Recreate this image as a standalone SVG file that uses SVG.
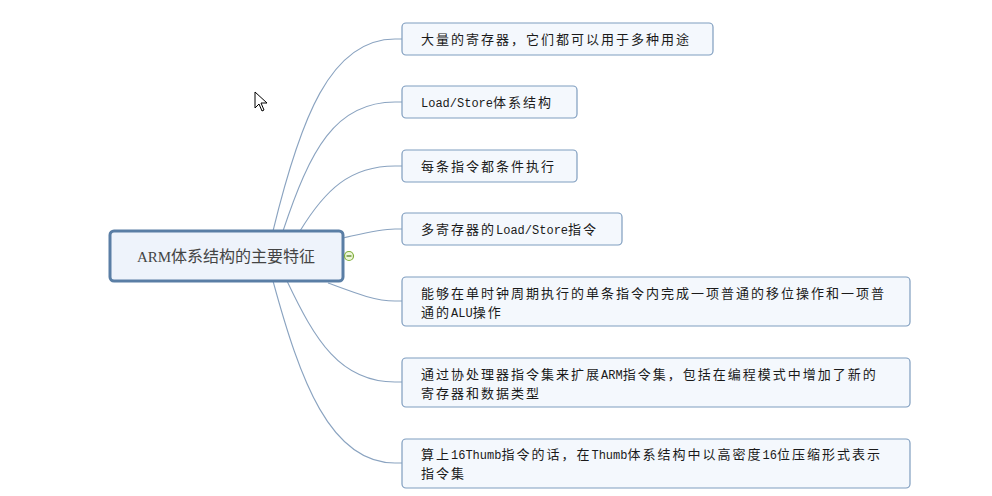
<svg xmlns="http://www.w3.org/2000/svg" width="992" height="496" viewBox="0 0 992 496">
<style>
.box{fill:#f4f8fd;stroke:#7f9dbf;stroke-width:1.2}
.root{fill:#eef3fb;stroke:#5a7ea5;stroke-width:3}
.t{font-family:"Noto Sans CJK SC","Noto Sans CJK JP",sans-serif;font-size:13px;letter-spacing:2px;fill:#1a1a1a}
.lat{font-family:"Liberation Mono",monospace;font-size:12px;letter-spacing:0px}
.rt{font-family:"Noto Sans CJK SC",sans-serif;font-size:16px;fill:#444}
.c{fill:none;stroke:#8aa3c0;stroke-width:1.1}
</style>
<rect width="992" height="496" fill="#ffffff"/>
<g id="connectors">
<path class="c" d="M273,231 C300,120 330,39 395,39 L402,39"/>
<path class="c" d="M283,231 C310,150 335,102 395,102 L402,102"/>
<path class="c" d="M300,231 C325,190 350,166 395,166 L402,166"/>
<path class="c" d="M343,238 C365,233 380,229 395,229 L402,229"/>
<path class="c" d="M328,283 C355,293 375,301 395,301 L402,301"/>
<path class="c" d="M287,281 C315,340 340,382 395,382 L402,382"/>
<path class="c" d="M273,281 C300,380 330,463 395,463 L402,463"/>
</g>
<g id="root">
<rect class="root" x="110" y="231" width="233" height="50" rx="4"/>
<text class="rt" x="226" y="262" text-anchor="middle"><tspan font-family="Liberation Serif, serif" font-size="15px">ARM</tspan>体系结构的主要特征</text>
<circle cx="349" cy="256" r="4.5" fill="#eef7d8" stroke="#7fae3a" stroke-width="1.2"/>
<line x1="346.5" y1="256" x2="351.5" y2="256" stroke="#4a7a1a" stroke-width="1.2"/>
</g>
<g id="n1">
<rect class="box" x="402" y="23" width="311" height="32" rx="4"/>
<text class="t" x="421" y="44">大量的寄存器，它们都可以用于多种用途</text>
</g>
<g id="n2">
<rect class="box" x="402" y="86" width="175" height="32" rx="4"/>
<text class="t" x="421" y="107"><tspan class="lat">Load/Store</tspan>体系结构</text>
</g>
<g id="n3">
<rect class="box" x="402" y="150" width="175" height="32" rx="4"/>
<text class="t" x="421" y="171">每条指令都条件执行</text>
</g>
<g id="n4">
<rect class="box" x="402" y="213" width="220" height="32" rx="4"/>
<text class="t" x="421" y="234">多寄存器的<tspan class="lat">Load/Store</tspan>指令</text>
</g>
<g id="n5">
<rect class="box" x="402" y="277" width="508" height="49" rx="4"/>
<text class="t" x="421" y="298">能够在单时钟周期执行的单条指令内完成一项普通的移位操作和一项普</text>
<text class="t" x="421" y="317">通的<tspan class="lat">ALU</tspan>操作</text>
</g>
<g id="n6">
<rect class="box" x="402" y="358" width="508" height="49" rx="4"/>
<text class="t" x="421" y="379">通过协处理器指令集来扩展<tspan class="lat">ARM</tspan>指令集，包括在编程模式中增加了新的</text>
<text class="t" x="421" y="398">寄存器和数据类型</text>
</g>
<g id="n7">
<rect class="box" x="402" y="439" width="508" height="49" rx="4"/>
<text class="t" x="421" y="459">算上<tspan class="lat">16Thumb</tspan>指令的话，在<tspan class="lat">Thumb</tspan>体系结构中以高密度<tspan class="lat">16</tspan>位压缩形式表示</text>
<text class="t" x="421" y="478">指令集</text>
</g>
<path d="M255,92 L255,108 L259,104 L262,111 L264,110 L261,103 L267,103 Z" fill="#fff" stroke="#000" stroke-width="1"/>
</svg>
